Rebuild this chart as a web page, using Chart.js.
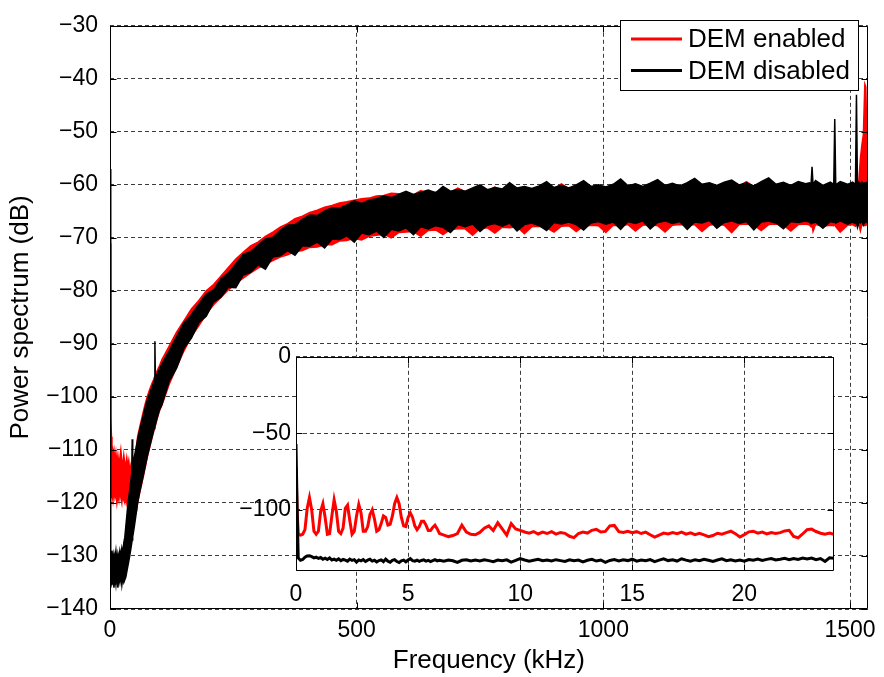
<!DOCTYPE html>
<html>
<head>
<meta charset="utf-8">
<script src="https://cdn.jsdelivr.net/npm/chart.js@4.4.0/dist/chart.umd.min.js"></script>
<style>
  body { margin: 0; background: #fff; }
  #wrap { position: relative; width: 884px; height: 677px; }
  #inset { position: absolute; left: 215px; top: 338px; }
</style>
</head>
<body>
<div id="wrap">
  <canvas id="main" width="884" height="677"></canvas>
  <canvas id="inset" width="640" height="270"></canvas>
</div>
<script>
// series names
var seriesNames = ['DEM enabled', 'DEM disabled'];

// main plot: frequency (kHz) and the upper / lower edge of each noisy trace (dB)
var mainFreq = [0,1,2,3,4,6,8,10,12,14,16,18,20,22,24,26,28,30,32,34,36,38,40,42,44,45,46,48,50,53,56,60,64,68,72,76,80,84,88,90,91,92,96,100,
  105,120,135,150,165,180,195,210,225,240,255,270,285,300,315,330,345,360,375,390,405,420,435,450,465,480,495,510,525,540,555,570,585,600,
  615,630,645,660,675,690,705,720,735,750,765,780,795,810,825,840,855,870,885,900,915,930,945,960,975,990,1005,1020,1035,1050,1065,1080,1095,
  1110,1125,1140,1155,1170,1185,1200,1215,1230,1245,1260,1275,1290,1305,1320,1335,1350,1365,1380,1395,1410,
  1418,1421,1423,1425,1430,1445,1460,1467,1469,1471,1480,1495,1505,1511,1513,1515,1518,1521,1524,1527,1530,1532,1534,1536];

var redUpper = [-71,-92,-104,-107.5,-109,-111,-110,-112,-110.5,-112.5,-111,-113,-111.5,-110,-112,-113,-111,-112.5,-113,-111.5,-113,-112,-114,-113,-114.5,-114.5,-114,-114.5,-112,-110,-107.5,-105.8,-104.2,-102.6,-101.1,-99.8,-98.7,-97.7,-96.8,-96.3,-96.1,-95.9,-95,-94.2,
  -93.0,-90.4,-87.8,-85.6,-83.4,-81.8,-80.0,-78.8,-77.2,-75.6,-74.0,-72.7,-71.5,-70.8,-69.7,-68.9,-68.0,-67.3,-66.4,-65.9,-65.2,-64.8,-64.2,-63.9,-63.4,-63.2,-62.9,-62.6,-62.5,-62.1,-62.0,-61.6,-61.7,-61.5,
  -61.9,-61.1,-61.6,-61.4,-61.6,-61.4,-60.6,-61.3,-61.0,-61.0,-61.2,-60.4,-61.0,-60.8,-60.9,-60.6,-60.8,-60.5,-60.6,-60.7,-59.8,-60.7,-60.4,-60.4,-60.6,-60.3,-60.6,-60.2,-60.3,-60.4,-59.9,-60.5,-60.2,
  -60.1,-60.3,-59.8,-60.4,-60.0,-60.1,-60.2,-59.9,-60.2,-60.0,-59.9,-60.3,-59.4,-60.4,-59.9,-60.0,-60.1,-59.8,-60.2,-59.9,-60.1,
  -60.2,-60.5,-60.3,-60.4,-60.1,-60.4,-60.2,-60.5,-60.3,-60.4,-60.0,-60.3,-60.2,-60.4,-60.3,-60.4,-59.0,-55,-52.5,-50.5,-41,-41.5,-51,-55];

var redLower = [-117,-118,-117.5,-119,-118,-119.5,-117.5,-119,-118,-120,-118.5,-119.5,-117.5,-119,-120,-118,-119.5,-120,-118.5,-120,-119,-120.5,-119,-120,-121,-121,-121,-121.5,-122,-122,-120,-118.2,-116.5,-114.8,-113,-111.2,-109.7,-108.2,-106.7,-106,-105.7,-105.4,-104,-102.7,
  -101.6,-97.6,-94.4,-91.3,-88.6,-86.6,-84.4,-82.6,-81.2,-79.8,-78.6,-77.6,-76.6,-75.7,-75.0,-74.3,-73.6,-73.2,-72.6,-72.4,-71.8,-71.7,-71.3,-71.3,-70.6,-70.5,-70.1,-70.4,-69.7,-69.5,-69.3,-70.0,-69.0,-68.9,
  -68.8,-69.7,-68.6,-68.5,-69.4,-68.4,-68.3,-68.3,-69.5,-68.2,-68.1,-69.1,-68.0,-68.1,-67.9,-69.2,-67.9,-67.8,-68.1,-68.9,-67.8,-67.7,-68.8,-67.8,-67.6,-67.7,-69.0,-67.6,-67.7,-67.5,-68.7,-67.6,-67.5,
  -67.7,-68.9,-67.6,-67.5,-67.6,-67.5,-68.8,-67.6,-67.4,-67.6,-69.0,-67.5,-67.4,-67.6,-68.6,-67.5,-67.4,-67.6,-68.7,-67.5,-67.4,
  -67.6,-67.9,-67.5,-68.8,-67.5,-67.8,-67.6,-67.7,-67.4,-67.9,-68.9,-67.6,-67.5,-67.8,-67.5,-67.7,-67.6,-68.7,-67.4,-67.6,-67.7,-67.6,-67.5,-67.7];

var blackUpper = [-57,-127,-129.5,-130.5,-129,-131,-129.5,-130.5,-129,-131,-129.5,-130.5,-129,-130,-128.5,-129.5,-127.5,-126.5,-124.5,-122.5,-120.5,-119,-117.5,-116,-114.5,-108,-113.5,-112,-111,-109.5,-108,-106.3,-104.8,-103.3,-101.8,-100.5,-99.4,-98.4,-97.4,-96.9,-89.5,-96.5,-95.6,-94.8,
  -93.8,-91.3,-88.6,-86.0,-84.5,-82.5,-80.6,-79.8,-77.7,-76.6,-74.9,-73.1,-72.6,-71.4,-70.2,-69.9,-68.6,-67.6,-67.5,-66.5,-65.7,-65.8,-64.9,-64.3,-64.4,-63.8,-63.0,-63.5,-62.9,-62.6,-62.1,-62.4,-61.8,-61.2,
  -61.8,-61.4,-61.0,-61.5,-60.3,-61.2,-60.9,-61.2,-60.6,-60.0,-60.9,-60.5,-60.8,-59.6,-60.6,-60.3,-60.7,-60.2,-59.4,-60.5,-60.1,-60.6,-60.0,-59.2,-60.3,-60.0,-60.4,-59.9,-58.9,-60.2,-59.8,-60.3,-59.7,
  -59.0,-60.1,-59.7,-60.2,-59.6,-58.8,-59.9,-59.6,-60.1,-59.5,-59.1,-60.0,-59.6,-60.2,-59.4,-58.7,-59.9,-59.5,-60.1,-59.4,-59.8,
  -59.6,-59.8,-56.6,-60.0,-59.2,-60.1,-59.5,-59.9,-47.6,-60.0,-59.4,-59.9,-59.5,-59.9,-43,-60.0,-59.5,-59.9,-59.4,-59.8,-59.6,-59.9,-59.5,-59.8];

var blackLower = [-132,-134.5,-136,-134,-135.5,-133.5,-136,-134,-135.5,-133.5,-136,-134,-135,-133.5,-135.5,-134,-135,-134.5,-134,-133,-132,-131,-130,-128.8,-127.6,-127,-126.4,-125.2,-124,-122,-120,-118,-116.3,-114.6,-112.8,-111,-109.5,-108,-106.5,-105.8,-105.5,-105.2,-103.8,-102.5,
  -101.5,-97.0,-94.6,-90.8,-88.9,-86.0,-84.8,-82.1,-81.2,-79.3,-79.4,-77.0,-76.5,-75.1,-75.9,-73.6,-73.4,-72.4,-73.3,-71.5,-71.6,-70.8,-71.9,-70.2,-70.3,-69.6,-70.8,-69.1,-69.4,-68.7,-69.9,-68.4,-68.7,-68.1,
  -69.4,-67.9,-68.3,-67.7,-68.0,-69.0,-67.5,-67.9,-67.4,-68.8,-67.6,-67.3,-67.8,-67.2,-68.7,-67.5,-67.2,-67.7,-68.6,-67.1,-67.4,-67.0,-67.5,-68.5,-67.2,-66.9,-67.4,-67.0,-68.4,-66.9,-67.3,-66.8,-68.3,
  -67.1,-66.8,-67.3,-66.9,-68.4,-67.0,-67.2,-66.7,-68.2,-67.1,-66.8,-67.3,-66.9,-68.5,-67.0,-66.8,-67.2,-68.3,-66.9,-67.1,-66.8,
  -67.0,-67.3,-66.9,-67.2,-67.0,-68.2,-66.9,-67.1,-66.9,-67.2,-66.8,-67.4,-67.0,-67.3,-66.9,-68.0,-67.0,-67.2,-66.8,-67.6,-67.0,-67.1,-66.8,-67.2];

var mainXTicks = [0, 500, 1000, 1500];
var mainYTicks = [-140,-130,-120,-110,-100,-90,-80,-70,-60,-50,-40,-30];

// inset: first 24 kHz
var insetFreq = [0,0.05,0.1,0.2,0.3,0.4,0.5,0.6,0.7,0.8,0.9,1.0,1.1,1.2,1.3,1.4,1.5,1.6,1.7,1.8,1.9,2.0,2.1,2.2,2.3,2.4,2.5,2.6,2.7,2.8,2.9,3.0,
  3.1,3.2,3.3,3.4,3.5,3.6,3.7,3.8,3.9,4.0,4.1,4.2,4.3,4.4,4.5,4.6,4.7,4.8,4.9,5.0,5.1,5.2,5.3,5.4,5.5,5.6,5.7,5.8,5.9,6.0,6.1,6.2,6.3,6.4,
  6.6,6.8,7.0,7.2,7.4,7.6,7.8,8.0,8.2,8.4,8.6,8.8,9.0,9.2,9.4,9.6,9.8,10.0,10.2,10.4,10.6,10.8,11.0,11.2,11.4,11.6,11.8,12.0,
  12.2,12.4,12.6,12.8,13.0,13.2,13.4,13.6,13.8,14.0,14.2,14.4,14.6,14.8,15.0,15.2,15.4,15.6,15.8,16.0,16.2,16.4,16.6,16.8,17.0,17.2,17.4,17.6,17.8,18.0,
  18.2,18.4,18.6,18.8,19.0,19.2,19.4,19.6,19.8,20.0,20.2,20.4,20.6,20.8,21.0,21.2,21.4,21.6,21.8,22.0,22.2,22.4,22.6,22.8,23.0,23.2,23.4,23.6,23.8,24.0];

var insetRed = [-72,-100,-116,-116.5,-116,-113,-99,-92,-100,-114,-116,-114,-101,-96,-105,-116,-115.5,-104,-93.5,-101,-114,-115.5,-112,-99,-97,-107,-116,-114,-104,-96.5,-102,-114,
  -114,-111,-103,-100,-106,-114,-113,-109,-104,-105,-110,-109.5,-104,-96,-92,-96,-105,-110.5,-111,-105,-102,-105,-110.5,-113,-111,-107.5,-107.5,-110,-113.5,-113.5,-111.5,-110,-112.5,-115.5,
  -116.5,-117.5,-116.8,-115.5,-110,-114.5,-116,-116.3,-114.8,-112,-110.5,-113.5,-108.5,-112.5,-116.5,-109,-112.5,-113.5,-114.5,-115.3,-114.2,-115.8,-114.6,-115.5,-114.3,-115.9,-114.8,-115.4,
  -117.3,-118.2,-115.5,-114.6,-115.2,-113.4,-112.8,-114.5,-114.1,-110.5,-110.2,-114.3,-114.8,-114.0,-115.0,-114.3,-115.5,-114.6,-116.3,-117.8,-116.5,-115.2,-115.8,-114.9,-115.6,-114.6,-115.9,-115.1,-116.2,-115.4,
  -116.4,-117.6,-116.8,-115.3,-115.9,-114.9,-114.0,-115.6,-117.8,-116.2,-114.4,-114.0,-115.3,-114.6,-115.7,-114.8,-115.5,-114.9,-113.8,-113.4,-117.4,-118.3,-115.8,-113.0,-112.6,-114.2,-115.3,-116.0,-115.2,-116.0];

var insetBlack = [-57,-100,-131.5,-133,-132.5,-131,-130.2,-130,-130.6,-131.4,-131,-131.8,-131.2,-132.3,-131.6,-132.5,-131.4,-132.8,-132.2,-133.0,-132.1,-133.3,-132.4,-132.9,-133.6,-132.2,-133.1,-132.6,-134.2,-132.8,-133.4,-132.5,
  -133.8,-132.9,-132.3,-133.5,-133.0,-134.1,-133.2,-132.7,-133.9,-132.2,-133.6,-134.3,-133.1,-132.6,-133.8,-134.4,-133.3,-132.9,-134.0,-132.8,-131.9,-133.2,-133.6,-132.9,-133.7,-133.1,-132.7,-133.5,-133.0,-133.8,-133.2,-132.6,-133.4,-133.0,
  -133.6,-132.8,-133.3,-134.4,-133.0,-132.7,-133.5,-132.9,-133.4,-132.6,-133.2,-133.9,-132.8,-133.3,-132.7,-134.2,-133.1,-131.9,-132.8,-133.6,-133.0,-132.4,-133.3,-132.9,-133.5,-132.6,-133.2,-133.8,
  -132.7,-133.3,-132.9,-134.0,-133.0,-132.4,-133.5,-132.8,-134.3,-133.1,-132.5,-133.4,-132.7,-133.2,-132.3,-133.6,-132.8,-133.3,-132.5,-133.9,-132.9,-132.1,-133.2,-132.7,-133.5,-132.0,-132.9,-133.6,-132.6,-133.2,
  -132.3,-133.0,-133.7,-132.8,-132.1,-133.3,-132.6,-133.4,-132.9,-133.6,-132.5,-132.9,-132.2,-133.1,-132.4,-131.9,-132.8,-132.3,-131.7,-132.6,-131.8,-132.4,-131.6,-132.2,-131.5,-132.6,-131.9,-133.8,-131.4,-131.7];

var insetXTicks = [0, 5, 10, 15, 20];
var insetYTicks = [-100, -50, 0];

var RED = '#ff0000';
var BLACK = '#000000';
var FONT = "'Liberation Sans', Arial, Helvetica, sans-serif";
var GRID = '#3c3c3c';

function fmt(v) { return String(v).replace('-', '\u2212'); }

function xy(xs, ys) {
  return xs.map(function (x, i) { return { x: x, y: ys[i] }; });
}

// frame, inward ticks, white plot area and legend box (MATLAB look)
var framePlugin = {
  id: 'frame',
  beforeDraw: function (chart, args, opts) {
    if (!opts.white) return;
    var a = chart.chartArea, ctx = chart.ctx;
    ctx.save();
    ctx.fillStyle = '#fff';
    ctx.fillRect(a.left, a.top, a.right - a.left, a.bottom - a.top);
    ctx.restore();
  },
  afterDraw: function (chart, args, opts) {
    var ctx = chart.ctx, a = chart.chartArea, sx = chart.scales.x, sy = chart.scales.y;
    var L = Math.round(a.left) + 0.5, R = Math.round(a.right) - 0.5;
    var T = Math.round(a.top) + 0.5, B = Math.round(a.bottom) - 0.5;
    var tl = opts.tick || 6;
    ctx.save();
    ctx.strokeStyle = '#000';
    ctx.lineWidth = 1;
    ctx.beginPath();
    ctx.rect(L, T, R - L, B - T);
    sx.ticks.forEach(function (t) {
      var p = Math.round(sx.getPixelForValue(t.value)) + 0.5;
      ctx.moveTo(p, B); ctx.lineTo(p, B - tl);
      ctx.moveTo(p, T); ctx.lineTo(p, T + tl);
    });
    sy.ticks.forEach(function (t) {
      var p = Math.round(sy.getPixelForValue(t.value)) + 0.5;
      ctx.moveTo(L, p); ctx.lineTo(L + tl, p);
      ctx.moveTo(R, p); ctx.lineTo(R - tl, p);
    });
    ctx.stroke();

    var lg = opts.legend;
    if (lg) {
      ctx.fillStyle = '#fff';
      ctx.fillRect(lg.x, lg.y, lg.w, lg.h);
      ctx.strokeRect(lg.x + 0.5, lg.y + 0.5, lg.w, lg.h);
      ctx.font = lg.font;
      ctx.textBaseline = 'middle';
      lg.rows.forEach(function (r, i) {
        ctx.strokeStyle = r.color;
        ctx.lineWidth = 3;
        ctx.beginPath();
        ctx.moveTo(lg.x + 11, r.y);
        ctx.lineTo(lg.x + 62, r.y);
        ctx.stroke();
        ctx.fillStyle = '#000';
        ctx.fillText(seriesNames[i], lg.x + 68, r.y + 1);
      });
    }
    ctx.restore();
  }
};

function band(ys, color, fill, order) {
  return {
    data: xy(mainFreq, ys),
    borderColor: color,
    backgroundColor: color,
    borderWidth: 1.5,
    pointRadius: 0,
    tension: 0,
    fill: fill,
    order: order
  };
}

new Chart(document.getElementById('main'), {
  type: 'line',
  data: {
    datasets: [
      band(redUpper, RED, '+1', 2),
      band(redLower, RED, false, 2),
      band(blackUpper, BLACK, '+1', 1),
      band(blackLower, BLACK, false, 1)
    ]
  },
  options: {
    responsive: false,
    animation: false,
    devicePixelRatio: 1,
    layout: { padding: { top: 12, right: 16, left: 0, bottom: 0 } },
    plugins: {
      legend: { display: false },
      tooltip: { enabled: false },
      frame: {
        tick: 6,
        legend: {
          x: 620, y: 20, w: 238, h: 70,
          font: '26px ' + FONT,
          rows: [{ color: RED, y: 39 }, { color: BLACK, y: 70.5 }]
        }
      }
    },
    scales: {
      x: {
        type: 'linear', min: 0, max: 1536,
        afterBuildTicks: function (s) { s.ticks = mainXTicks.map(function (v) { return { value: v }; }); },
        afterFit: function (s) { s.height = 68; },
        grid: { color: GRID, drawTicks: false, borderDash: [4, 3] },
        border: { display: false, dash: [4, 3] },
        ticks: { color: '#000', padding: 8, maxRotation: 0, autoSkip: false, font: { family: FONT, size: 23 }, callback: fmt },
        title: { display: true, text: 'Frequency (kHz)', color: '#000', font: { family: FONT, size: 26 }, padding: { top: 0, bottom: 1 } }
      },
      y: {
        type: 'linear', min: -140, max: -30,
        afterBuildTicks: function (s) { s.ticks = mainYTicks.map(function (v) { return { value: v }; }); },
        afterFit: function (s) { s.width = 110; },
        grid: { color: GRID, drawTicks: false, borderDash: [4, 3] },
        border: { display: false, dash: [4, 3] },
        ticks: { color: '#000', padding: 12, autoSkip: false, font: { family: FONT, size: 23 }, callback: fmt },
        title: { display: true, text: 'Power spectrum (dB)', color: '#000', font: { family: FONT, size: 26 }, padding: { top: 5, bottom: 0 } }
      }
    }
  },
  plugins: [framePlugin]
});

new Chart(document.getElementById('inset'), {
  type: 'line',
  data: {
    datasets: [
      { data: xy(insetFreq, insetRed), borderColor: RED, borderWidth: 3, pointRadius: 0, tension: 0, fill: false, order: 2 },
      { data: xy(insetFreq, insetBlack), borderColor: BLACK, borderWidth: 3, pointRadius: 0, tension: 0, fill: false, order: 1 }
    ]
  },
  options: {
    responsive: false,
    animation: false,
    devicePixelRatio: 1,
    layout: { padding: { top: 15, right: 21, left: 0, bottom: 0 } },
    plugins: {
      legend: { display: false },
      tooltip: { enabled: false },
      frame: { white: true, tick: 6 }
    },
    scales: {
      x: {
        type: 'linear', min: 0, max: 24,
        afterBuildTicks: function (s) { s.ticks = insetXTicks.map(function (v) { return { value: v }; }); },
        afterFit: function (s) { s.height = 37; },
        grid: { color: GRID, drawTicks: false, borderDash: [4, 3] },
        border: { display: false, dash: [4, 3] },
        ticks: { color: '#000', padding: 10, maxRotation: 0, autoSkip: false, font: { family: FONT, size: 23 }, callback: fmt }
      },
      y: {
        type: 'linear', min: -140, max: 0,
        afterBuildTicks: function (s) { s.ticks = insetYTicks.map(function (v) { return { value: v }; }); },
        afterFit: function (s) { s.width = 81; },
        grid: { color: GRID, drawTicks: false, borderDash: [4, 3] },
        border: { display: false, dash: [4, 3] },
        ticks: { color: '#000', padding: 5, autoSkip: false, font: { family: FONT, size: 23 }, callback: fmt }
      }
    }
  },
  plugins: [framePlugin]
});
</script>
</body>
</html>
